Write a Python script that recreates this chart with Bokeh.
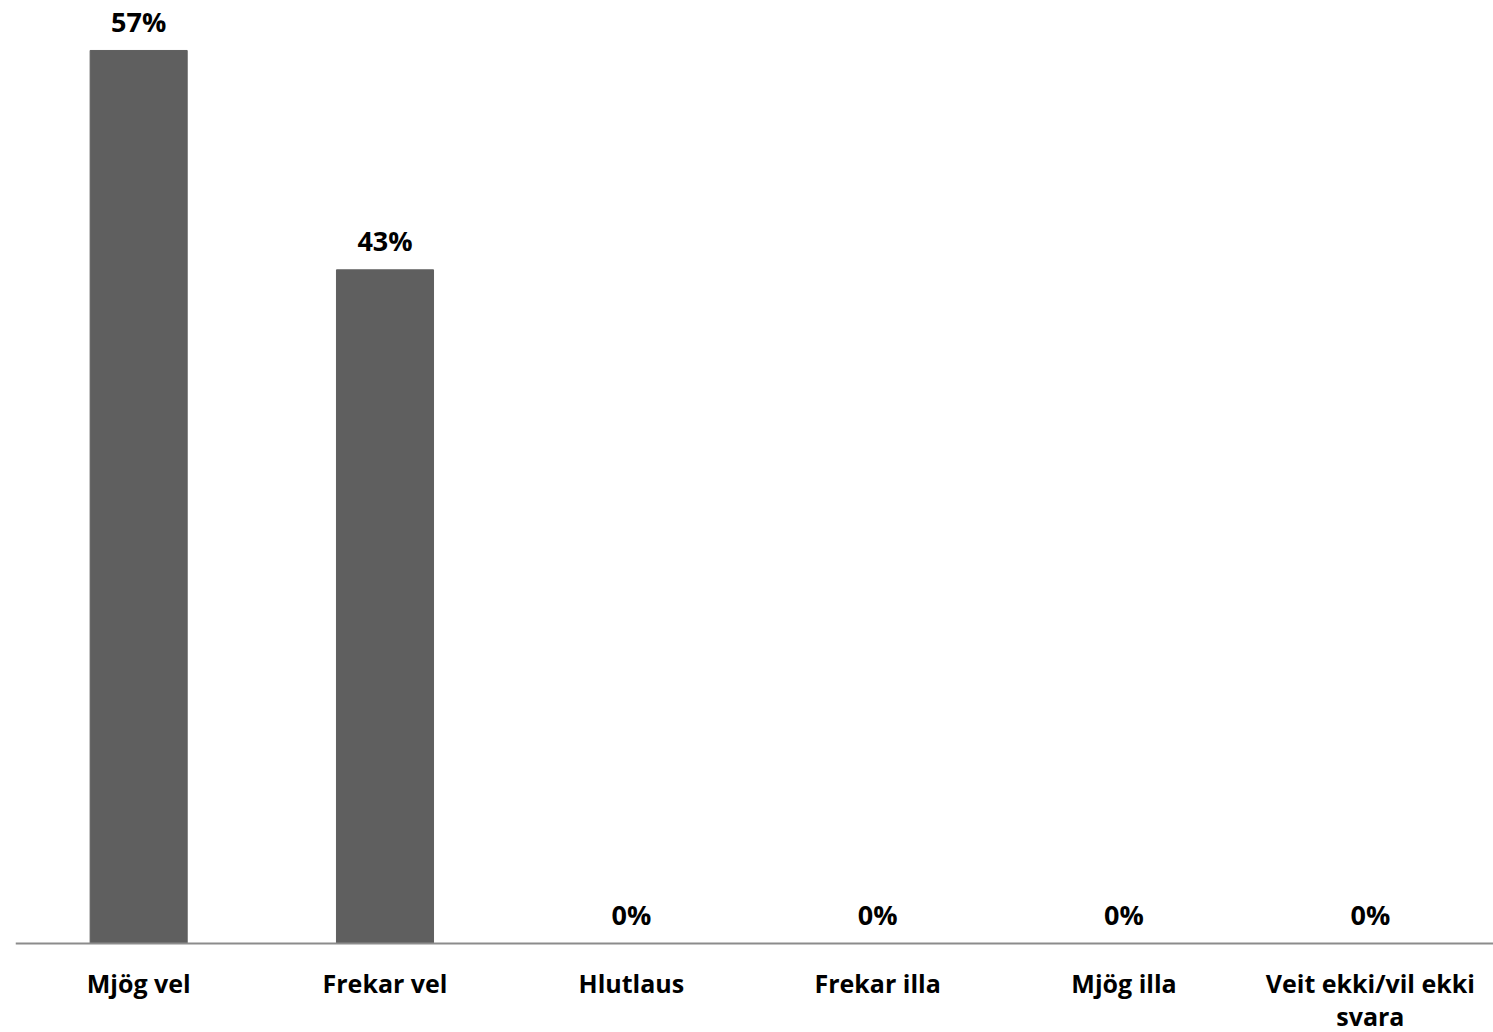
from bokeh.plotting import figure
from bokeh.models import ColumnDataSource, Span
from bokeh.core.properties import value
from bokeh.embed import file_html
from bokeh.resources import INLINE

categories = ["Mjög vel", "Frekar vel", "Hlutlaus", "Frekar illa", "Mjög illa", "Veit ekki/vil ekki svara"]
category_labels = ["Mjög vel", "Frekar vel", "Hlutlaus", "Frekar illa", "Mjög illa", "Veit ekki/vil ekki\nsvara"]
values = [57, 43, 0, 0, 0, 0]
labels = [f"{v}%" for v in values]

line1 = [c.split("\n")[0] for c in category_labels]
line2 = [c.split("\n")[1] if "\n" in c else "" for c in category_labels]
zeros = [0] * len(categories)

src = ColumnDataSource(dict(cat=categories, val=values, lab=labels, l1=line1, l2=line2, z=zeros))

p = figure(x_range=categories, y_range=(-5.68, 60.19), width=1493, height=1032,
           output_backend="svg", toolbar_location=None,
           min_border_left=15, min_border_right=0, min_border_top=0, min_border_bottom=0)
p.vbar(x="cat", top="val", width=0.394, source=src, color="#5f5f5f")
p.add_layout(Span(location=0, dimension="width", line_color="#8c8c8c", line_width=2))

p.text(x="cat", y="val", text="lab", source=src, text_align="center", text_baseline="alphabetic",
       y_offset=-29, text_font=value("Open Sans"), text_font_style="bold",
       text_font_size="27px", text_color="#000000")
p.text(x="cat", y="z", text="l1", source=src, text_align="center", text_baseline="alphabetic",
       y_offset=39, text_font=value("Open Sans"), text_font_style="bold",
       text_font_size="25px", text_color="#000000")
p.text(x="cat", y="z", text="l2", source=src, text_align="center", text_baseline="alphabetic",
       y_offset=72, text_font=value("Open Sans"), text_font_style="bold",
       text_font_size="25px", text_color="#000000")

p.xaxis.visible = False
p.yaxis.visible = False
p.xgrid.visible = False
p.ygrid.visible = False
p.outline_line_color = None

open("out.html", "w").write(file_html(p, INLINE))
